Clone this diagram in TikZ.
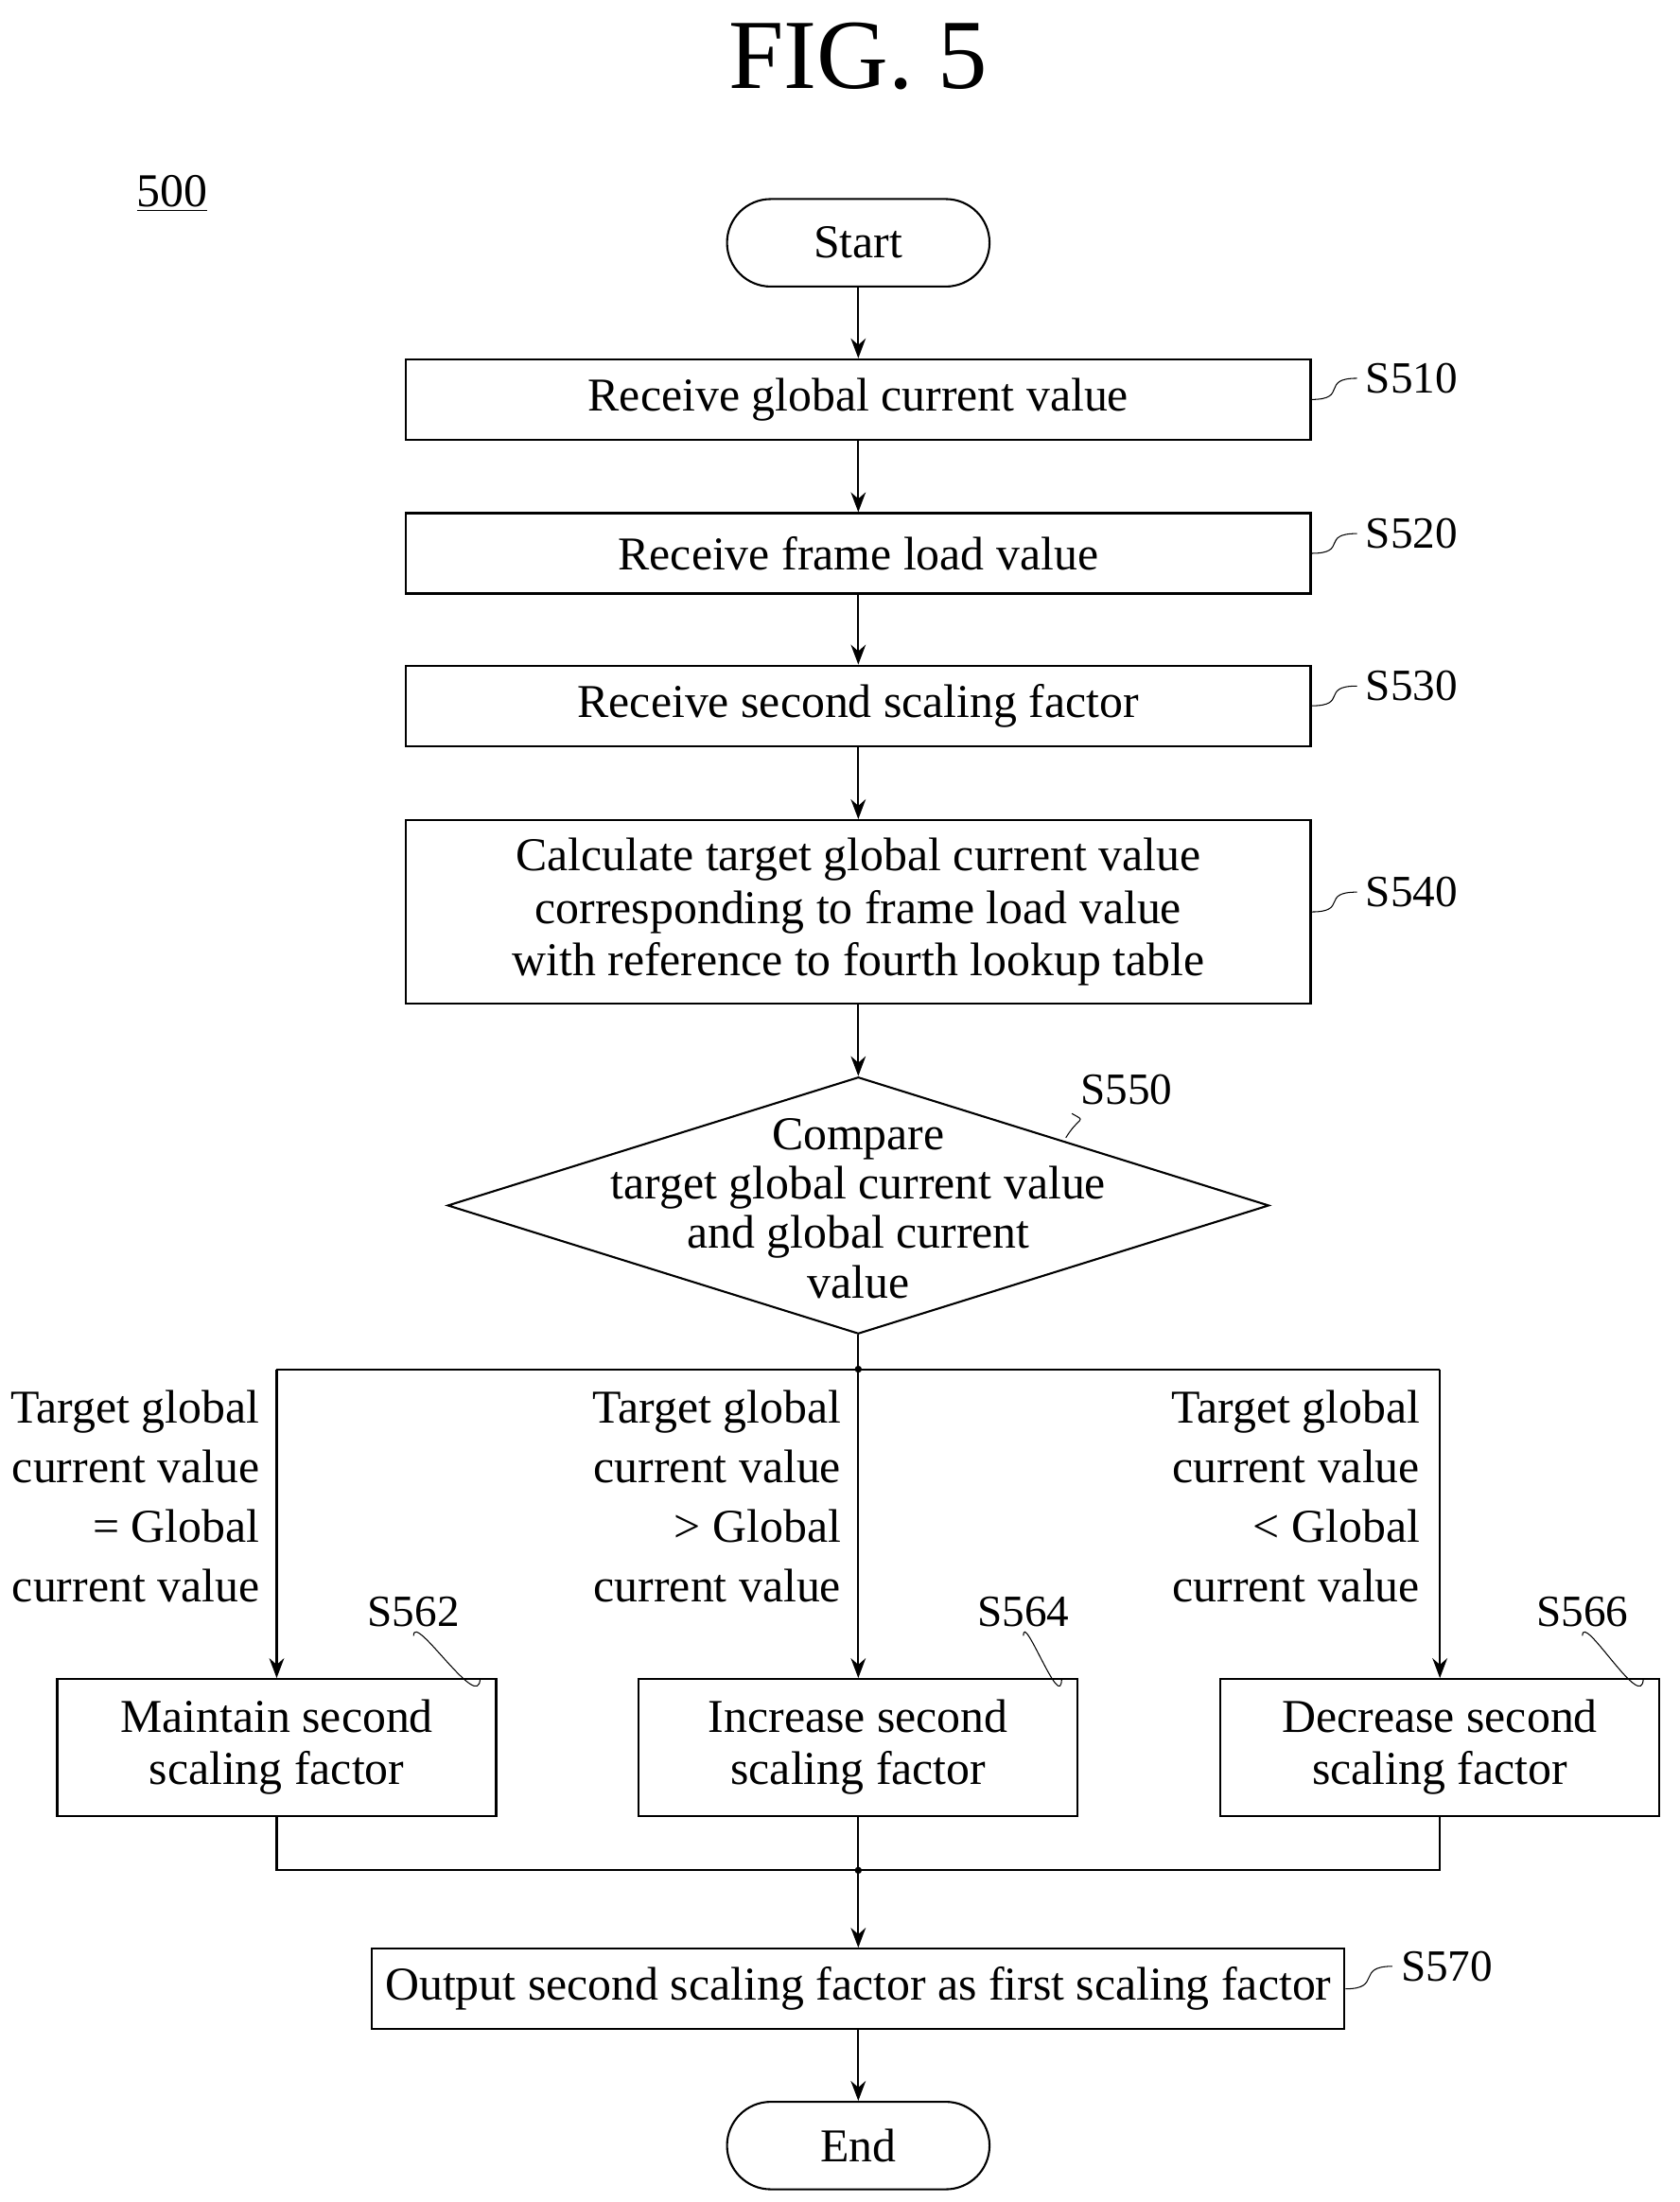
\documentclass[tikz,border=0pt]{standalone}
\usepackage{fontspec}
\setmainfont{Liberation Serif}
\usetikzlibrary{shapes.geometric,arrows.meta}
\tikzset{
  box/.style={draw, thick, align=center, minimum height=1.14cm, inner sep=2pt},
  term/.style={draw, thick, rounded corners=0.62cm, minimum width=3.72cm, minimum height=1.24cm},
  cond/.style={align=right, anchor=east, font=\fontsize{19}{24}\selectfont},
  steptag/.style={font=\fontsize{18}{20}\selectfont},
  flow/.style={thick, -{Stealth[length=8pt]}},
  tag/.style={thin},
}
\begin{document}
\begin{tikzpicture}[x=0.02cm, y=-0.02cm, font=\fontsize{19}{21}\selectfont]
  \useasboundingbox (0,0) rectangle (1190,1560);

  \node[font=\fontsize{40}{40}\selectfont] (title) at (608,40) {FIG. 5};
  \node[font=\fontsize{19}{20}\selectfont] (num) at (122,137) {\underline{500}};

  \node[term] (start) at (608,172) {Start};
  \node[box, minimum width=12.82cm] (s510) at (608,283) {Receive global current value};
  \node[box, minimum width=12.82cm] (s520) at (608,392) {Receive frame load value};
  \node[box, minimum width=12.82cm] (s530) at (608,500) {Receive second scaling factor};
  \node[box, minimum width=12.82cm, minimum height=2.6cm] (s540) at (608,646)
    {Calculate target global current value\\corresponding to frame load value\\with reference to fourth lookup table};
  \node[draw, thick, diamond, aspect=3.2, minimum width=11.64cm, minimum height=3.64cm,
        inner sep=0pt, align=center] (s550) at (608,854) {};
  \node[align=center, font=\fontsize{19}{20}\selectfont] (s550t) at (608,856)
    {Compare\\target global current value\\and global current\\value};

  \coordinate (split) at (608,970);
  \coordinate (splitl) at (196,970);
  \coordinate (splitr) at (1020,970);

  \node[box, minimum width=6.22cm, minimum height=1.94cm] (s562) at (196,1238) {Maintain second\\scaling factor};
  \node[box, minimum width=6.22cm, minimum height=1.94cm] (s564) at (608,1238) {Increase second\\scaling factor};
  \node[box, minimum width=6.22cm, minimum height=1.94cm] (s566) at (1020,1238) {Decrease second\\scaling factor};

  \coordinate (merge) at (608,1325);
  \coordinate (mergel) at (196,1325);
  \coordinate (merger) at (1020,1325);

  \node[box, minimum width=13.78cm] (s570) at (608,1409) {Output second scaling factor as first scaling factor};
  \node[term] (end) at (608,1520) {End};

  % main flow
  \draw[flow] (start) -- (s510);
  \draw[flow] (s510) -- (s520);
  \draw[flow] (s520) -- (s530);
  \draw[flow] (s530) -- (s540);
  \draw[flow] (s540) -- (s550);
  \draw[thick] (s550.south) -- (split);
  \draw[thick] (splitl) -- (splitr);
  \fill (split) circle (2.5);
  \draw[flow] (splitl) -- (s562);
  \draw[flow] (split) -- (s564);
  \draw[flow] (splitr) -- (s566);
  \draw[thick] (s562) -- (mergel) -- (merger) -- (s566);
  \draw[thick] (s564) -- (merge);
  \fill (merge) circle (2.5);
  \draw[flow] (merge) -- (s570);
  \draw[flow] (s570) -- (end);

  % branch conditions
  \node[cond] (c1) at (190,1060) {Target global\\current value\\= Global\\current value};
  \node[cond] (c2) at (602,1060) {Target global\\current value\\> Global\\current value};
  \node[cond] (c3) at (1012,1060) {Target global\\current value\\< Global\\current value};

  % step tags
  \node[steptag] (t510) at (1000,268) {S510};
  \node[steptag] (t520) at (1000,378) {S520};
  \node[steptag] (t530) at (1000,486) {S530};
  \node[steptag] (t540) at (1000,632) {S540};
  \node[steptag] (t550) at (798,772) {S550};
  \node[steptag] (t562) at (293,1142) {S562};
  \node[steptag] (t564) at (725,1142) {S564};
  \node[steptag] (t566) at (1121,1142) {S566};
  \node[steptag] (t570) at (1025,1393) {S570};
  \foreach \b/\t in {s510/t510, s520/t520, s530/t530, s540/t540, s570/t570}
    \draw[tag] (\b.east) .. controls ([xshift=15]\b.east) and ([xshift=-15]\t.west) .. (\t.west);
  \draw[tag] (755,806) .. controls (765,790) and (770,795) .. (t550.south west);
  \foreach \b/\t in {s562/t562, s564/t564, s566/t566}
    \draw[tag] ([xshift=82]\b.north) .. controls ([xshift=82,yshift=-15]\b.north) and ([yshift=10]\t.south) .. (\t.south);
\end{tikzpicture}
\end{document}
